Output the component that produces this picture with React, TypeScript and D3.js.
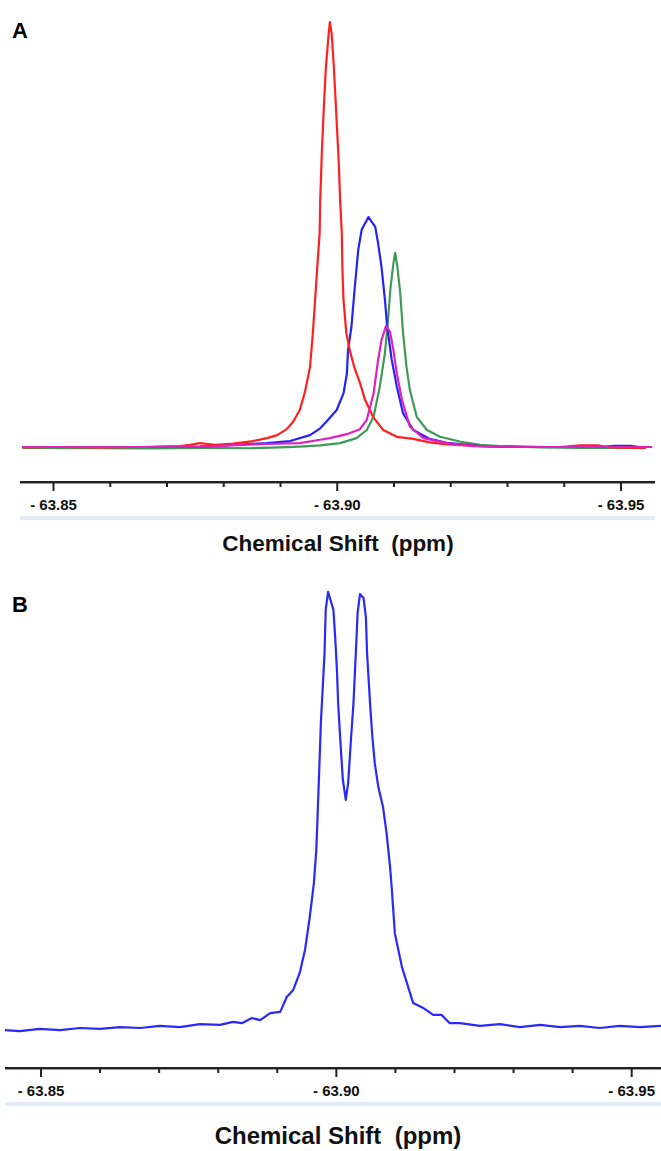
import React, { useRef, useEffect } from "react";
import * as d3 from "d3";

// [chemical shift (ppm), intensity (% of tallest peak)]
const redA = [
  [-63.8445, -0.1], [-63.8511, 0], [-63.8582, -0.1], [-63.8652, 0], [-63.8723, 0.2], [-63.8741, 0.5],
  [-63.8758, 0.9], [-63.8785, 0.5], [-63.8816, 0.8], [-63.8852, 1.4], [-63.8876, 2.1], [-63.8894, 2.8],
  [-63.8911, 4.2], [-63.8922, 5.9], [-63.8934, 8.7], [-63.8943, 12.9], [-63.8952, 18.8], [-63.8957, 26.8],
  [-63.8961, 34.6], [-63.8965, 42.8], [-63.8969, 50.4], [-63.897, 58.1], [-63.8973, 69.9], [-63.8977, 81.7],
  [-63.898, 89.4], [-63.8985, 97.4], [-63.8987, 100], [-63.899, 97.4], [-63.8994, 89.4], [-63.8997, 81.7],
  [-63.9, 73.9], [-63.9003, 65.9], [-63.9005, 58.1], [-63.9008, 50.4], [-63.9009, 42.4], [-63.9011, 34.6],
  [-63.9016, 26.8], [-63.9022, 22.8], [-63.903, 18.8], [-63.904, 15.1], [-63.9049, 11.1], [-63.9063, 7.1],
  [-63.9081, 4.0], [-63.9105, 2.4], [-63.9134, 1.9], [-63.9163, 1.1], [-63.9193, 0.6], [-63.9252, 0.2],
  [-63.9322, 0], [-63.9393, 0], [-63.9428, 0.4], [-63.9458, 0.4], [-63.9481, -0.1], [-63.9533, -0.2],
  [-63.9544, -0.2],
];

const blueA = [
  [-63.8445, 0], [-63.8582, 0], [-63.867, 0], [-63.8758, 0.1], [-63.8816, 0.5], [-63.8876, 0.9],
  [-63.8917, 1.4], [-63.8952, 2.8], [-63.897, 4.4], [-63.8982, 6.1], [-63.8999, 8.7], [-63.9011, 12.6],
  [-63.9017, 17.3], [-63.9019, 22.8], [-63.9025, 28.3], [-63.9031, 37.7], [-63.9037, 46.4], [-63.9043, 51.1],
  [-63.9055, 54.1], [-63.9067, 51.8], [-63.9072, 47.9], [-63.9078, 42.4], [-63.9084, 34.6], [-63.9088, 28.3],
  [-63.9096, 20.5], [-63.9105, 14.2], [-63.9116, 7.9], [-63.9134, 4.0], [-63.9163, 1.9], [-63.9193, 1.0],
  [-63.9222, 0.6], [-63.9252, 0.2], [-63.9322, 0], [-63.9393, 0], [-63.9463, 0], [-63.9489, 0.3],
  [-63.9516, 0.3], [-63.9533, 0],
];

const greenA = [
  [-63.8445, -0.2], [-63.8582, -0.3], [-63.867, -0.3], [-63.8758, -0.2], [-63.8846, -0.3], [-63.8899, -0.1],
  [-63.8934, 0.1], [-63.897, 0.4], [-63.9005, 0.9], [-63.9034, 2.1], [-63.9052, 4.0], [-63.9064, 7.1],
  [-63.9075, 14.2], [-63.9084, 22.1], [-63.909, 30.7], [-63.9094, 37.7], [-63.9099, 43.2], [-63.9102, 45.7],
  [-63.9106, 42.4], [-63.9111, 36.2], [-63.9116, 26.8], [-63.9122, 18.9], [-63.9128, 13.4], [-63.914, 7.1],
  [-63.9158, 4.0], [-63.9181, 2.4], [-63.9216, 1.3], [-63.9252, 0.5], [-63.9287, 0.2], [-63.9357, -0.1],
  [-63.9428, -0.2], [-63.9498, -0.2], [-63.9542, -0.2],
];

const magentaA = [
  [-63.8445, 0], [-63.8582, 0], [-63.867, 0], [-63.8758, 0.1], [-63.8876, 0.7], [-63.8934, 0.9],
  [-63.897, 1.7], [-63.8987, 2.1], [-63.9019, 3.1], [-63.904, 4.2], [-63.9052, 6.4], [-63.9064, 12.6],
  [-63.9072, 20.5], [-63.9078, 25.2], [-63.9086, 28.5], [-63.9093, 27.1], [-63.9099, 22.8], [-63.9105, 17.3],
  [-63.9114, 11.1], [-63.9128, 4.8], [-63.9152, 2.1], [-63.9193, 0.9], [-63.924, 0.2], [-63.9287, 0.2],
  [-63.9375, 0], [-63.9463, 0], [-63.9555, 0],
];

const blueB = [
  [-63.8439, -0.5], [-63.8464, -0.7], [-63.8498, -0.2], [-63.8532, -0.5], [-63.8566, 0], [-63.86, -0.2],
  [-63.8634, 0.2], [-63.8668, 0], [-63.8701, 0.5], [-63.8735, 0.2], [-63.8769, 0.9], [-63.8803, 0.7],
  [-63.8825, 1.4], [-63.884, 1.1], [-63.8857, 2.3], [-63.8871, 1.8], [-63.8888, 3.4], [-63.8905, 3.7],
  [-63.8916, 7.1], [-63.8927, 8.7], [-63.8938, 12.6], [-63.8947, 17.9], [-63.8955, 25.4], [-63.8962, 33.2],
  [-63.8966, 40.7], [-63.8968, 47.6], [-63.8971, 59.0], [-63.8974, 70.5], [-63.8977, 78.0], [-63.898, 85.8],
  [-63.8982, 95.7], [-63.8986, 99.8], [-63.8995, 95.7], [-63.8998, 89.5], [-63.9001, 81.9], [-63.9003, 74.4],
  [-63.9007, 65.2], [-63.9011, 56.8], [-63.9016, 52.2], [-63.902, 56.1], [-63.9025, 66.6], [-63.9029, 74.4],
  [-63.9033, 85.8], [-63.9036, 95.0], [-63.904, 99.3], [-63.9046, 98.4], [-63.905, 94.1], [-63.9052, 85.8],
  [-63.9057, 74.4], [-63.9061, 66.6], [-63.9065, 60.6], [-63.9071, 55.2], [-63.9079, 50.6], [-63.9085, 44.6],
  [-63.9091, 36.8], [-63.9094, 31.6], [-63.9099, 21.7], [-63.9111, 14.0], [-63.913, 5.7], [-63.9147, 4.6],
  [-63.9164, 3.0], [-63.9178, 3.0], [-63.9192, 1.1], [-63.9209, 1.1], [-63.9243, 0.5], [-63.9277, 0.9],
  [-63.9311, 0.2], [-63.9345, 0.7], [-63.9379, 0.2], [-63.9412, 0.5], [-63.9446, 0], [-63.948, 0.5],
  [-63.9514, 0.2], [-63.955, 0.5],
];

const majorTicks = [-63.85, -63.9, -63.95];
const minorTicks = [-63.86, -63.87, -63.88, -63.89, -63.91, -63.92, -63.93, -63.94];
const axisTitle = "Chemical Shift  (ppm)";

const FONT = "'Liberation Sans', Arial, sans-serif";

const seriesA = [
  { data: greenA, color: "#3f9a55" },
  { data: blueA, color: "#2323f5" },
  { data: redA, color: "#ff2121" },
  { data: magentaA, color: "#dd22c0" },
];
const seriesB = [{ data: blueB, color: "#2a2af8" }];

const Panel = ({ svg, letter, letterY, series, xRange, yRange, axisY, lineX0, lineX1, titleY, titleSize }) => {
  const x = d3.scaleLinear().domain([-63.85, -63.95]).range(xRange);
  const y = d3.scaleLinear().domain([0, 100]).range(yRange);

  svg.append("text")
    .attr("x", 12).attr("y", letterY)
    .attr("font-family", FONT).attr("font-weight", "bold").attr("font-size", 22)
    .text(letter);

  const line = d3.line().x((d) => x(d[0])).y((d) => y(d[1]));
  series.forEach((s) => {
    svg.append("path")
      .datum(s.data)
      .attr("d", line)
      .attr("fill", "none")
      .attr("stroke", s.color)
      .attr("stroke-width", 2.2)
      .attr("stroke-linejoin", "round");
  });

  // axis line with a faint shadow under it
  svg.append("line").attr("x1", lineX0).attr("x2", lineX1)
    .attr("y1", axisY + 1.5).attr("y2", axisY + 1.5)
    .attr("stroke", "#9a9a9a").attr("stroke-width", 1);
  svg.append("line").attr("x1", lineX0).attr("x2", lineX1)
    .attr("y1", axisY).attr("y2", axisY)
    .attr("stroke", "#222").attr("stroke-width", 2);

  svg.selectAll(null).data(majorTicks).enter().append("line")
    .attr("x1", (d) => x(d)).attr("x2", (d) => x(d))
    .attr("y1", axisY).attr("y2", axisY + 9)
    .attr("stroke", "#222").attr("stroke-width", 2);
  svg.selectAll(null).data(minorTicks).enter().append("line")
    .attr("x1", (d) => x(d)).attr("x2", (d) => x(d))
    .attr("y1", axisY).attr("y2", axisY + 5)
    .attr("stroke", "#222").attr("stroke-width", 2);

  svg.selectAll(null).data(majorTicks).enter().append("text")
    .attr("x", (d) => x(d)).attr("y", axisY + 28)
    .attr("text-anchor", "middle")
    .attr("font-family", FONT).attr("font-weight", "bold").attr("font-size", 15)
    .attr("fill", "#111")
    .text((d) => "- " + Math.abs(d).toFixed(2));

  svg.append("rect")
    .attr("x", lineX0).attr("width", lineX1 - lineX0)
    .attr("y", axisY + 34).attr("height", 4)
    .attr("fill", "#e4ebf7");

  svg.append("text")
    .attr("x", 338).attr("y", titleY)
    .attr("text-anchor", "middle")
    .attr("font-family", FONT).attr("font-weight", "bold").attr("font-size", titleSize)
    .attr("fill", "#111")
    .style("white-space", "pre")
    .text(axisTitle);
};

export default function App() {
  const ref = useRef(null);

  useEffect(() => {
    const svg = d3.select(ref.current);
    svg.selectAll("*").remove();

    Panel({
      svg, letter: "A", letterY: 38, series: seriesA,
      xRange: [53.5, 621], yRange: [447, 22], axisY: 482,
      lineX0: 20, lineX1: 655, titleY: 551, titleSize: 22.5,
    });
    Panel({
      svg, letter: "B", letterY: 612, series: seriesB,
      xRange: [41, 631.7], yRange: [1028, 591], axisY: 1068,
      lineX0: 5, lineX1: 661, titleY: 1144, titleSize: 24,
    });
  }, []);

  return (
    <div style={{ position: "absolute", left: 0, top: 0 }}>
      <svg ref={ref} width={661} height={1151} style={{ display: "block", background: "#fff" }} />
    </div>
  );
}
